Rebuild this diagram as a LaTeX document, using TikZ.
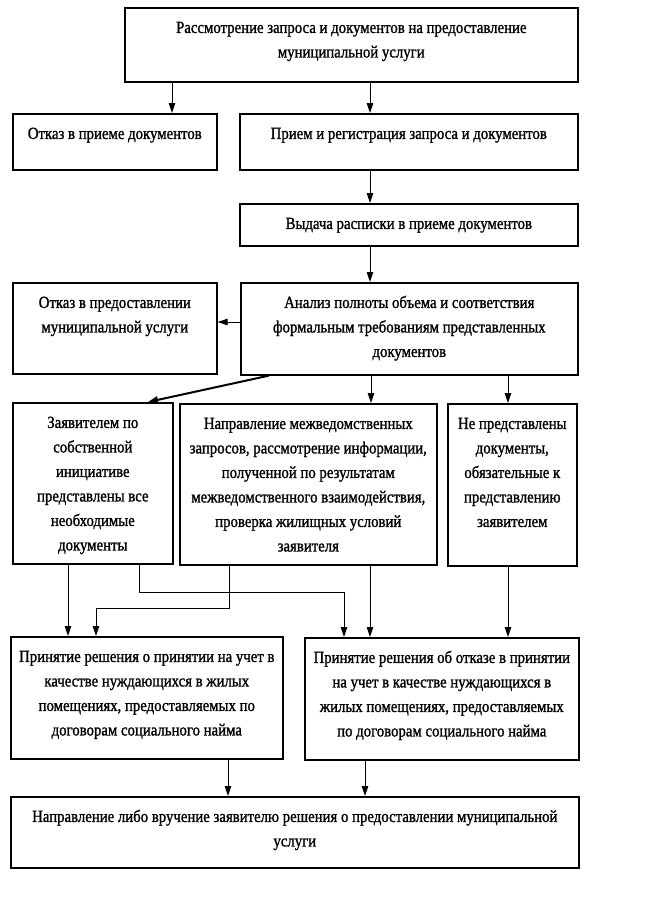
\documentclass[tikz,border=0pt]{standalone}
\usepackage{fontspec}
\setmainfont{Liberation Serif}[FakeStretch=0.87,FakeBold=1.2]
\usetikzlibrary{arrows.meta}
\newcommand{\bt}[3]{\parbox[c][#2pt][t]{#1pt}{\centering\vspace*{8pt}\strut#3\par}}
\tikzset{
  box/.style={draw, line width=1.6pt, inner sep=0pt, anchor=north west},
  arr/.style={line width=1pt, -{Triangle[length=10pt,width=6.5pt]}},
  darr/.style={line width=2pt, -{Triangle[length=10pt,width=7pt]}}
}
\begin{document}
\begin{tikzpicture}[x=1pt,y=-1pt,font=\fontsize{17}{24.5}\selectfont]
\useasboundingbox (0,0) rectangle (646,905);
\fill[white] (0,0) rectangle (646,905);
\node[box] (top) at (124,7) {\bt{453}{74}{Рассмотрение запроса и документов на предоставление\\муниципальной услуги}};
\node[box] (otk1) at (12,113) {\bt{204}{56}{Отказ в приеме документов}};
\node[box] (priem) at (239,113) {\bt{338}{56}{Прием и регистрация запроса и документов}};
\node[box] (vyd) at (239,203) {\bt{338}{42}{Выдача расписки в приеме документов}};
\node[box] (otk2) at (12,282) {\bt{204}{91}{Отказ в предоставлении\\муниципальной услуги}};
\node[box] (anal) at (240,282) {\bt{337}{92}{Анализ полноты объема и соответствия\\формальным требованиям представленных\\документов}};
\node[box] (zay) at (12,402) {\bt{160}{161}{Заявителем по\\собственной\\инициативе\\представлены все\\необходимые\\документы}};
\node[box] (napr) at (179,403) {\bt{257}{161}{Направление межведомственных\\запросов, рассмотрение информации,\\полученной по результатам\\межведомственного взаимодействия,\\проверка жилищных условий\\заявителя}};
\node[box] (nepr) at (447,403) {\bt{129}{162}{Не представлены\\документы,\\обязательные к\\представлению\\заявителем}};
\node[box] (prL) at (10,636) {\bt{272}{122}{Принятие решения о принятии на учет в\\качестве нуждающихся в жилых\\помещениях, предоставляемых по\\договорам социального найма}};
\node[box] (prR) at (304,637) {\bt{274}{122}{Принятие решения об отказе в принятии\\на учет в качестве нуждающихся в\\жилых помещениях, предоставляемых\\по договорам социального найма}};
\node[box] (fin) at (10,796) {\bt{568}{71}{Направление либо вручение заявителю решения о предоставлении муниципальной\\услуги}};
% connectors
\draw[arr] (top.south -| 172,0) -- (otk1.north -| 172,0);
\draw[arr] (top.south -| 370,0) -- (priem.north -| 370,0);
\draw[arr] (priem.south -| 370,0) -- (vyd.north -| 370,0);
\draw[arr] (vyd.south -| 370,0) -- (anal.north -| 370,0);
\draw[arr] (anal.west |- 0,322) -- (otk2.east |- 0,322);
\draw[darr] (anal.south -| 269,0) -- (zay.north -| 148,0);
\draw[arr] (anal.south -| 371,0) -- (napr.north -| 371,0);
\draw[arr] (anal.south -| 508,0) -- (nepr.north -| 508,0);
\draw[arr] (zay.south -| 68,0) -- (prL.north -| 68,0);
\draw[arr] (zay.south -| 139,0) |- (344,592) -- (prR.north -| 344,0);
\draw[arr] (napr.south -| 229,0) |- (96,608) -- (prL.north -| 96,0);
\draw[arr] (napr.south -| 370,0) -- (prR.north -| 370,0);
\draw[arr] (nepr.south -| 508,0) -- (prR.north -| 508,0);
\draw[arr] (prL.south -| 228,0) -- (fin.north -| 228,0);
\draw[arr] (prR.south -| 365,0) -- (fin.north -| 365,0);
\end{tikzpicture}
\end{document}
